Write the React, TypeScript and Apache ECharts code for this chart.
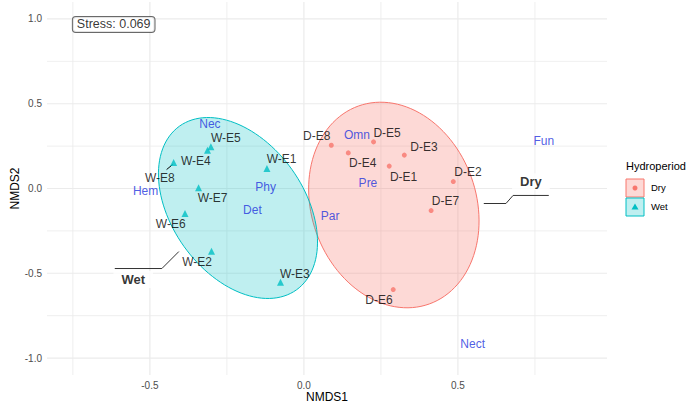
import { useEffect, useRef } from 'react';
import * as echarts from 'echarts';

// ---- data ----
const drySites = ['D-E1', 'D-E2', 'D-E3', 'D-E4', 'D-E5', 'D-E6', 'D-E7', 'D-E8'];
const dryX = [0.277, 0.485, 0.326, 0.144, 0.226, 0.29, 0.413, 0.089];
const dryY = [0.132, 0.041, 0.197, 0.21, 0.275, -0.596, -0.13, 0.255];

const wetSites = ['W-E1', 'W-E2', 'W-E3', 'W-E4', 'W-E5', 'W-E6', 'W-E7', 'W-E8'];
const wetX = [-0.12, -0.3, -0.076, -0.313, -0.302, -0.386, -0.342, -0.423];
const wetY = [0.118, -0.37, -0.553, 0.226, 0.246, -0.147, 0.004, 0.153];

const species = ['Nec', 'Hem', 'Phy', 'Det', 'Omn', 'Pre', 'Par', 'Fun', 'Nect'];
const speciesX = [-0.305, -0.514, -0.124, -0.167, 0.172, 0.208, 0.085, 0.779, 0.548];
const speciesY = [0.378, -0.016, 0.01, -0.124, 0.315, 0.031, -0.163, 0.283, -0.916];

// ellipses (Dry, Wet): centre and two conjugate semi-axes, in data units
const groups = ['Dry', 'Wet'];
const ellipseCx = [0.292, -0.214];
const ellipseCy = [-0.0973, -0.115];
const ellipseUx = [0.115, 0.1897];
const ellipseUy = [-0.5838, -0.483];
const ellipseVx = [-0.2516, -0.1752];
const ellipseVy = [-0.1636, -0.227];

// group labels and their leader lines
const groupLabelX = [0.737, -0.554];
const groupLabelY = [0.0395, -0.537];
const dryLeader = [[0.584, -0.0885], [0.656, -0.0885], [0.679, -0.041], [0.795, -0.041]];
const wetLeader = [[-0.614, -0.472], [-0.461, -0.472], [-0.406, -0.372]];

const stressText = 'Stress: 0.069';
const stressX = -0.75;
const stressY = 1.0;

// axes
const xMin = -0.834;
const xMax = 0.984;
const yMin = -1.1;
const yMax = 1.1;
const xMajor = [-0.5, 0, 0.5];
const xMinor = [-0.75, -0.25, 0.25, 0.75];
const yMajor = [-1, -0.5, 0, 0.5, 1];
const yMinor = [-0.75, -0.25, 0.25, 0.75];

// ---- layout (pixel offsets of repelled labels) ----
const labelOffset: Record<string, [number, number]> = {
  'D-E1': [14.4, 10.6],
  'D-E2': [14.7, -9.3],
  'D-E3': [19.7, -8],
  'D-E4': [14.4, 10],
  'D-E5': [13.6, -9],
  'D-E6': [-14.3, 10],
  'D-E7': [14.4, -9.3],
  'D-E8': [-14.6, -9.7],
  'W-E1': [14.7, -9],
  'W-E2': [-14.4, 10.6],
  'W-E3': [14.3, -8.3],
  'W-E4': [-11.7, 11],
  'W-E5': [15, -8.3],
  'W-E6': [-14.3, 11],
  'W-E7': [14, 10],
  'W-E8': [-13.7, 15.3],
};

const FONT = '"Liberation Sans", Arial, Helvetica, sans-serif';
const RED = '#F8766D';
const TEAL = '#00BFC4';
const SPECIES_COLOR = '#2233DD';
const GRID_COLOR = '#EBEBEB';

export default function App() {
  const ref = useRef<HTMLDivElement>(null);

  useEffect(() => {
    document.body.style.margin = '0';
    if (!ref.current) return;
    const chart = echarts.init(ref.current, undefined, { renderer: 'svg' });

    const gridSeries = (vals: number[], dir: 'x' | 'y', width: number) => ({
      type: 'custom',
      z: 0,
      silent: true,
      data: vals.map((v) => (dir === 'x' ? [v, 0] : [0, v])),
      encode: { x: 0, y: 1 },
      renderItem: (params: any, api: any) => {
        const cs = params.coordSys;
        const p = api.coord([api.value(0), api.value(1)]);
        const shape =
          dir === 'x'
            ? { x1: p[0], y1: cs.y, x2: p[0], y2: cs.y + cs.height }
            : { x1: cs.x, y1: p[1], x2: cs.x + cs.width, y2: p[1] };
        return { type: 'line', shape, style: { stroke: GRID_COLOR, lineWidth: width } };
      },
    });

    const siteData = (names: string[], xs: number[], ys: number[]) =>
      names.map((n, i) => ({
        name: n,
        value: [xs[i], ys[i]],
        label: { offset: labelOffset[n] },
      }));

    const siteLabel = {
      show: true,
      position: 'inside',
      formatter: (p: any) => p.name,
      color: '#000',
      fontSize: 12,
      fontFamily: FONT,
      textBorderWidth: 0,
    };

    const option: any = {
      animation: false,
      backgroundColor: '#fff',
      grid: { left: 47, right: 85, top: 2, bottom: 29, containLabel: false, outerBoundsMode: 'none' },
      xAxis: {
        type: 'value',
        min: xMin,
        max: xMax,
        splitLine: { show: false },
        axisLine: { show: false },
        axisTick: { show: false },
        axisLabel: {
          customValues: xMajor,
          formatter: (v: number) => v.toFixed(1),
          color: '#4D4D4D',
          fontSize: 10,
          fontFamily: FONT,
          margin: 5,
        },
        name: 'NMDS1',
        nameLocation: 'middle',
        nameGap: 16,
        nameMoveOverlap: false,
        nameTextStyle: { color: '#000', fontSize: 12, fontFamily: FONT },
      },
      yAxis: {
        type: 'value',
        min: yMin,
        max: yMax,
        splitLine: { show: false },
        axisLine: { show: false },
        axisTick: { show: false },
        axisLabel: {
          customValues: yMajor,
          formatter: (v: number) => v.toFixed(1),
          color: '#4D4D4D',
          fontSize: 10,
          fontFamily: FONT,
          margin: 5,
        },
        name: 'NMDS2',
        nameLocation: 'middle',
        nameGap: 26,
        nameMoveOverlap: false,
        nameTextStyle: { color: '#000', fontSize: 12, fontFamily: FONT },
      },
      series: [
        gridSeries(xMinor, 'x', 0.8),
        gridSeries(yMinor, 'y', 0.8),
        gridSeries(xMajor, 'x', 1.2),
        gridSeries(yMajor, 'y', 1.2),
        {
          type: 'custom',
          z: 1,
          silent: true,
          data: groups.map((g, i) => ({ name: g, value: [ellipseCx[i], ellipseCy[i]] })),
          encode: { x: 0, y: 1 },
          renderItem: (params: any, api: any) => {
            const i = params.dataIndex;
            const pts: number[][] = [];
            const N = 120;
            for (let k = 0; k < N; k++) {
              const t = (2 * Math.PI * k) / N;
              const c = Math.cos(t);
              const s = Math.sin(t);
              pts.push(
                api.coord([
                  ellipseCx[i] + c * ellipseUx[i] + s * ellipseVx[i],
                  ellipseCy[i] + c * ellipseUy[i] + s * ellipseVy[i],
                ])
              );
            }
            const col = i === 0 ? RED : TEAL;
            const fill = i === 0 ? 'rgba(248,118,109,0.28)' : 'rgba(0,191,196,0.25)';
            return {
              type: 'polygon',
              shape: { points: pts },
              style: { fill, stroke: col, lineWidth: 1 },
            };
          },
        },
        {
          type: 'line',
          z: 3,
          silent: true,
          symbol: 'none',
          data: dryLeader,
          lineStyle: { color: '#333', width: 1 },
        },
        {
          type: 'line',
          z: 3,
          silent: true,
          symbol: 'none',
          data: wetLeader,
          lineStyle: { color: '#333', width: 1 },
        },
        {
          // short repel segment for W-E8
          type: 'custom',
          z: 3,
          silent: true,
          data: [[wetX[7], wetY[7]]],
          encode: { x: 0, y: 1 },
          renderItem: (params: any, api: any) => {
            const p = api.coord([api.value(0), api.value(1)]);
            return {
              type: 'line',
              shape: { x1: p[0] - 1, y1: p[1] + 2, x2: p[0] - 7, y2: p[1] + 7 },
              style: { stroke: '#000', lineWidth: 1 },
            };
          },
        },
        {
          name: 'Dry',
          type: 'scatter',
          z: 4,
          silent: true,
          symbol: 'circle',
          symbolSize: 5,
          itemStyle: { color: RED },
          data: siteData(drySites, dryX, dryY),
          label: siteLabel,
        },
        {
          name: 'Wet',
          type: 'scatter',
          z: 4,
          silent: true,
          symbol: 'triangle',
          symbolSize: 7,
          itemStyle: { color: TEAL },
          data: siteData(wetSites, wetX, wetY),
          label: siteLabel,
        },
        {
          type: 'scatter',
          z: 4,
          silent: true,
          symbolSize: 0,
          data: species.map((s, i) => ({ name: s, value: [speciesX[i], speciesY[i]] })),
          label: {
            show: true,
            position: 'inside',
            formatter: (p: any) => p.name,
            color: SPECIES_COLOR,
            fontSize: 12,
            fontFamily: FONT,
            textBorderWidth: 0,
          },
        },
        {
          type: 'scatter',
          z: 5,
          silent: true,
          symbolSize: 0,
          data: groups.map((g, i) => ({ name: g, value: [groupLabelX[i], groupLabelY[i]] })),
          label: {
            show: true,
            position: 'inside',
            formatter: (p: any) => p.name,
            color: '#000',
            fontSize: 13,
            fontWeight: 'bold',
            fontFamily: FONT,
            backgroundColor: '#fff',
            padding: [2, 8],
            textBorderWidth: 0,
          },
        },
        {
          type: 'scatter',
          z: 5,
          silent: true,
          symbolSize: 0,
          data: [{ name: stressText, value: [stressX, stressY] }],
          label: {
            show: true,
            position: [0, 0],
            align: 'left',
            verticalAlign: 'top',
            offset: [0, -2],
            formatter: (p: any) => p.name,
            color: '#000',
            fontSize: 12.5,
            fontFamily: FONT,
            backgroundColor: '#fff',
            borderColor: '#444',
            borderWidth: 1,
            borderRadius: 3,
            padding: [1, 4],
            textBorderWidth: 0,
          },
        },
      ],
      graphic: [
        {
          type: 'text',
          left: 626,
          top: 160,
          style: { text: 'Hydroperiod', fontSize: 11, fontFamily: FONT, fill: '#000' },
        },
        {
          type: 'rect',
          shape: { x: 626, y: 179, width: 18, height: 18 },
          style: { fill: 'rgba(248,118,109,0.28)', stroke: RED, lineWidth: 1 },
        },
        {
          type: 'circle',
          shape: { cx: 635, cy: 188, r: 2.5 },
          style: { fill: RED },
        },
        {
          type: 'rect',
          shape: { x: 626, y: 198, width: 18, height: 18 },
          style: { fill: 'rgba(0,191,196,0.25)', stroke: TEAL, lineWidth: 1 },
        },
        {
          type: 'polygon',
          shape: { points: [[635, 203.5], [638.5, 209.5], [631.5, 209.5]] },
          style: { fill: TEAL },
        },
        {
          type: 'text',
          left: 651,
          top: 182.5,
          style: { text: 'Dry', fontSize: 9.5, fontFamily: FONT, fill: '#000' },
        },
        {
          type: 'text',
          left: 651,
          top: 201.5,
          style: { text: 'Wet', fontSize: 9.5, fontFamily: FONT, fill: '#000' },
        },
      ],
    };

    chart.setOption(option);
    return () => chart.dispose();
  }, []);

  return (
    <div
      ref={ref}
      style={{ position: 'absolute', left: 0, top: 0, width: 692, height: 404 }}
    />
  );
}
